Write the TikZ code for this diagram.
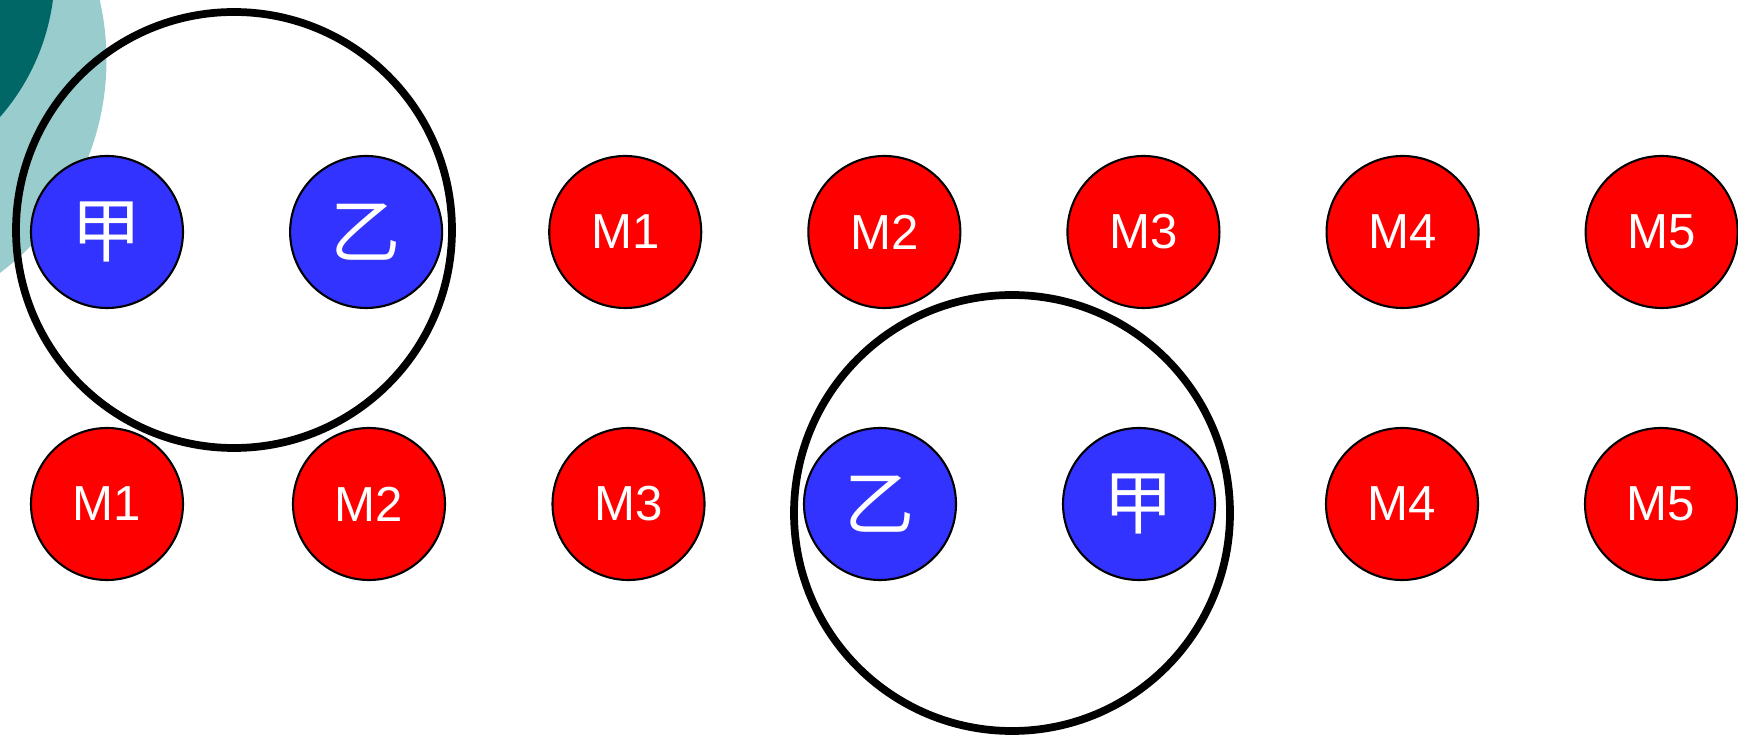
\documentclass[tikz,border=0pt]{standalone}
\usepackage{fontspec}
\setmainfont{Liberation Sans}
\newfontfamily\cjk{Noto Sans CJK SC}
\usetikzlibrary{positioning}

\definecolor{tealdark}{HTML}{006666}
\definecolor{teallight}{HTML}{99CCCC}
\definecolor{slotred}{HTML}{FF0000}
\definecolor{slotblue}{HTML}{3333FF}

\begin{document}
\begin{tikzpicture}[node distance=1.05cm,
                    slot/.style={circle,draw=black,line width=0.6pt,minimum size=1.52cm,inner sep=0pt,
                                 text=white,font=\fontsize{14}{16}\selectfont},
                    machine/.style={slot,fill=slotred},
                    worker/.style={slot,fill=slotblue,font=\cjk\fontsize{20}{22}\selectfont},
                    pair ring/.style={circle,draw=black,line width=2.2pt,minimum size=4.36cm,inner sep=0pt}]

  \useasboundingbox (0,0) rectangle (17.38,-7.37);

  % corner decoration
  \begin{scope}
    \clip (0,0) rectangle (17.38,-7.37);
    \fill[teallight] (-1.595,-0.60) circle (2.66);
    \fill[tealdark] (-1.672,0.29) circle (2.22);
  \end{scope}

  % first row
  \node[worker] (ja) at (1.07,-2.32) {甲};
  \node[worker] (yi) [right=of ja] {乙};
  \node[machine] (m1) [right=of yi] {M1};
  \node[machine] (m2) [right=of m1] {M2};
  \node[machine] (m3) [right=of m2] {M3};
  \node[machine] (m4) [right=of m3] {M4};
  \node[machine] (m5) [right=of m4] {M5};

  % second row
  \node[machine] (n1) at (1.07,-5.04) {M1};
  \node[machine] (n2) at (3.69,-5.04) {M2};
  \node[machine] (n3) at (6.285,-5.04) {M3};
  \node[worker] (yib) at (8.80,-5.04) {乙};
  \node[worker] (jab) at (11.39,-5.04) {甲};
  \node[machine] (n4) at (14.02,-5.04) {M4};
  \node[machine] (n5) at (16.61,-5.04) {M5};

  % the two rings
  \node[pair ring] (ringa) at (2.34,-2.30) {};
  \node[pair ring] (ringb) at (10.12,-5.13) {};

\end{tikzpicture}
\end{document}
